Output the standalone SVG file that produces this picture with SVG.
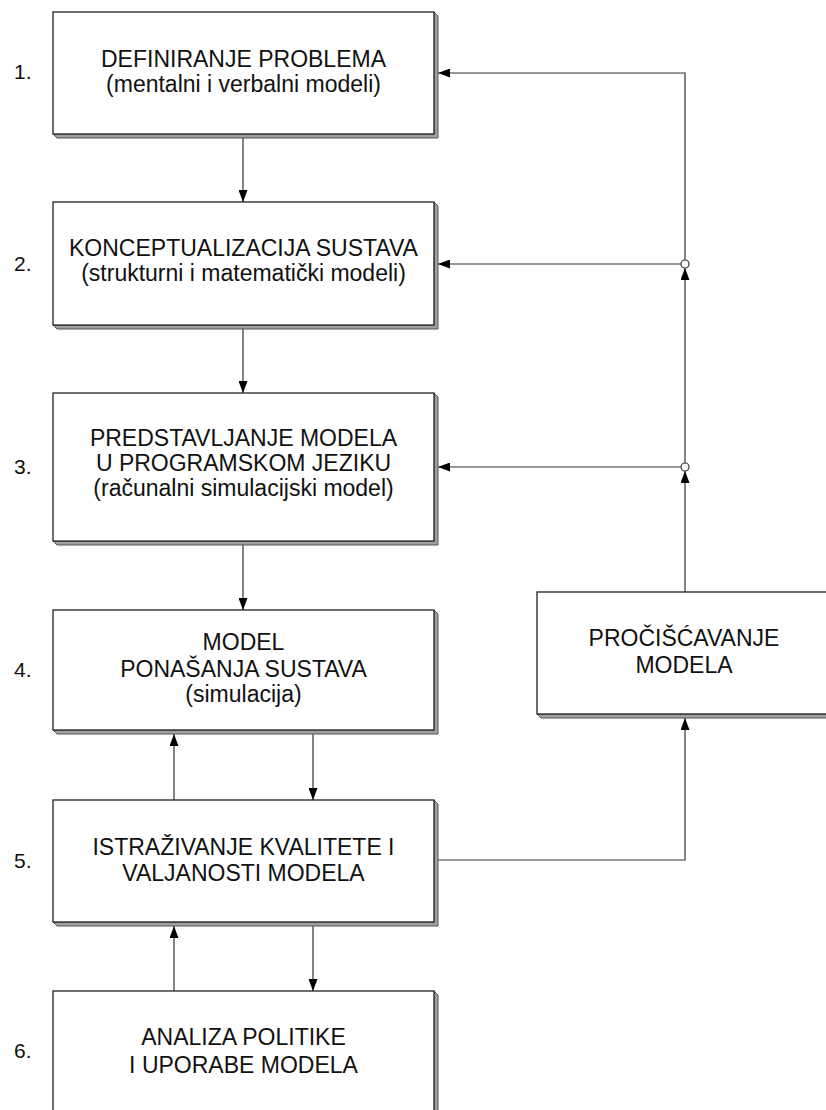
<svg xmlns="http://www.w3.org/2000/svg" width="826" height="1110" viewBox="0 0 826 1110">
<style>
.box{fill:#fff;stroke:#222;stroke-width:1.3}
.sh{fill:#a0a0a0;stroke:#555;stroke-width:1}
.t{font-family:"Liberation Sans",Arial,sans-serif;font-size:23px;fill:#111;text-anchor:middle}
.n{font-family:"Liberation Sans",Arial,sans-serif;font-size:21px;fill:#111}
.c{fill:none;stroke:#333;stroke-width:1.2}
</style>
<defs>
<marker id="a" viewBox="0 0 12 9" refX="12" refY="4.5" markerWidth="12" markerHeight="9" markerUnits="userSpaceOnUse" orient="auto">
<path d="M0,0 L12,4.5 L0,9 Z" fill="#000"/>
</marker>
</defs>
<g id="labels">
<text class="n" x="14" y="79">1.</text>
<text class="n" x="14" y="271">2.</text>
<text class="n" x="14" y="474">3.</text>
<text class="n" x="14" y="677">4.</text>
<text class="n" x="14" y="868">5.</text>
<text class="n" x="14" y="1058">6.</text>
</g>
<g id="connectors">
<path class="c" d="M243,138 V202" marker-end="url(#a)"/>
<path class="c" d="M243,329 V393" marker-end="url(#a)"/>
<path class="c" d="M243,545 V610" marker-end="url(#a)"/>
<path class="c" d="M313,734 V800" marker-end="url(#a)"/>
<path class="c" d="M174,800 V734" marker-end="url(#a)"/>
<path class="c" d="M313,926 V991" marker-end="url(#a)"/>
<path class="c" d="M174,991 V926" marker-end="url(#a)"/>
<path class="c" d="M438,860 H685 V718" marker-end="url(#a)"/>
<path class="c" d="M685,592 V471" marker-end="url(#a)"/>
<path class="c" d="M685,463 V268" marker-end="url(#a)"/>
<path class="c" d="M685,260 V73 H438" marker-end="url(#a)"/>
<path class="c" d="M681,264 H438" marker-end="url(#a)"/>
<path class="c" d="M681,467 H438" marker-end="url(#a)"/>
<circle cx="685" cy="264" r="4" fill="#fff" stroke="#333" stroke-width="1.2"/>
<circle cx="685" cy="467" r="4" fill="#fff" stroke="#333" stroke-width="1.2"/>
</g>
<g id="n1">
<path class="sh" d="M434,12 L438,16 V138 H57 L53,134 H434 Z"/>
<rect class="box" x="53" y="12" width="381" height="122"/>
<text class="t" x="243.5" y="67">DEFINIRANJE PROBLEMA</text>
<text class="t" x="243.5" y="92">(mentalni i verbalni modeli)</text>
</g>
<g id="n2">
<path class="sh" d="M434,202 L438,206 V329 H57 L53,325 H434 Z"/>
<rect class="box" x="53" y="202" width="381" height="123"/>
<text class="t" x="243.5" y="256">KONCEPTUALIZACIJA SUSTAVA</text>
<text class="t" x="243.5" y="281">(strukturni i matematički modeli)</text>
</g>
<g id="n3">
<path class="sh" d="M434,393 L438,397 V545 H57 L53,541 H434 Z"/>
<rect class="box" x="53" y="393" width="381" height="148"/>
<text class="t" x="243.5" y="446">PREDSTAVLJANJE MODELA</text>
<text class="t" x="243.5" y="471">U PROGRAMSKOM JEZIKU</text>
<text class="t" x="243.5" y="496">(računalni simulacijski model)</text>
</g>
<g id="n4">
<path class="sh" d="M434,610 L438,614 V734 H57 L53,730 H434 Z"/>
<rect class="box" x="53" y="610" width="381" height="120"/>
<text class="t" x="243.5" y="650">MODEL</text>
<text class="t" x="243.5" y="677">PONAŠANJA SUSTAVA</text>
<text class="t" x="243.5" y="702">(simulacija)</text>
</g>
<g id="n5">
<path class="sh" d="M434,800 L438,804 V926 H57 L53,922 H434 Z"/>
<rect class="box" x="53" y="800" width="381" height="122"/>
<text class="t" x="243.5" y="855">ISTRAŽIVANJE KVALITETE I</text>
<text class="t" x="243.5" y="881">VALJANOSTI MODELA</text>
</g>
<g id="n6">
<path class="sh" d="M434,991 L438,995 V1115 H57 L53,1111 H434 Z"/>
<rect class="box" x="53" y="991" width="381" height="120"/>
<text class="t" x="243.5" y="1045">ANALIZA POLITIKE</text>
<text class="t" x="243.5" y="1073">I UPORABE MODELA</text>
</g>
<g id="n7">
<path class="sh" d="M830,592 L834,596 V718 H541 L537,714 H830 Z"/>
<rect class="box" x="537" y="592" width="293" height="122"/>
<text class="t" x="684" y="646">PROČIŠĆAVANJE</text>
<text class="t" x="684" y="673">MODELA</text>
</g>
</svg>
